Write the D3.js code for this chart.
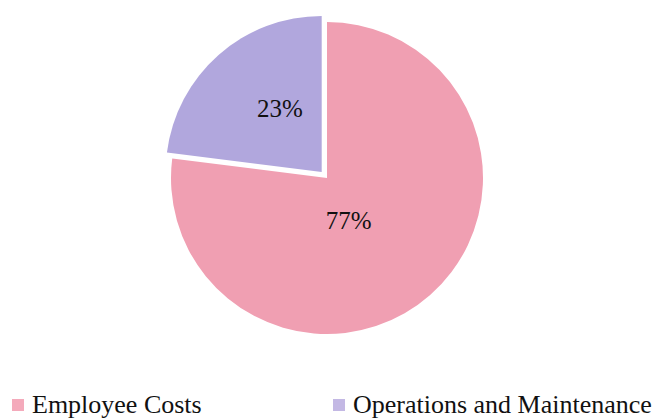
<!DOCTYPE html>
<html>
<head>
<meta charset="utf-8">
<script src="https://cdn.jsdelivr.net/npm/d3@7/dist/d3.min.js"></script>
<style>
  body { margin: 0; background: #fff; }
</style>
</head>
<body>
<div id="chart"></div>
<script>
var categories = ["Employee Costs", "Operations and Maintenance"];
var values = [77, 23];
var labels = ["77%", "23%"];

var w = 657, h = 418;
var cx = 327, cy = 178, r = 156;
var explode = [0, 8];
var sliceColors = ["#f09fb2", "#b1a7dd"];
var keyColors = ["#f4aabb", "#c3b8e4"];
var serif = "'Liberation Serif', 'Times New Roman', serif";

var svg = d3.select("#chart")
    .append("svg")
    .attr("width", w)
    .attr("height", h);

// clockwise from 12 o'clock: pink first, purple closes the circle
var pie = d3.pie().sort(null);

var arc = d3.arc().innerRadius(0).outerRadius(r);

var slices = pie(values);

var g = svg.append("g").attr("transform", "translate(" + cx + "," + cy + ")");

function shift(d, i) {
  var mid = (d.startAngle + d.endAngle) / 2;
  return [explode[i] * Math.sin(mid), -explode[i] * Math.cos(mid)];
}

g.selectAll("path")
    .data(slices)
    .enter()
    .append("path")
    .attr("d", arc)
    .attr("fill", function(d, i) { return sliceColors[i]; })
    .attr("transform", function(d, i) {
      var s = shift(d, i);
      return "translate(" + s[0] + "," + s[1] + ")";
    });

// label radius / nudge roughly where the original places them
var labelR = [48, 76];
var labelNudge = [0.255, 0.14];

g.selectAll("text.pct")
    .data(slices)
    .enter()
    .append("text")
    .attr("class", "pct")
    .attr("text-anchor", "middle")
    .attr("dy", "0.34em")
    .attr("font-family", serif)
    .attr("font-size", 25)
    .attr("fill", "#111")
    .attr("x", function(d, i) {
      var a = (d.startAngle + d.endAngle) / 2 + labelNudge[i];
      return shift(d, i)[0] + labelR[i] * Math.sin(a);
    })
    .attr("y", function(d, i) {
      var a = (d.startAngle + d.endAngle) / 2 + labelNudge[i];
      return shift(d, i)[1] - labelR[i] * Math.cos(a);
    })
    .text(function(d, i) { return labels[i]; });

// legend
var legendX = d3.scalePoint().domain(categories).range([12, 333]);

var key = svg.selectAll("g.key")
    .data(categories)
    .enter()
    .append("g")
    .attr("class", "key")
    .attr("transform", function(d) { return "translate(" + legendX(d) + ",399)"; });

key.append("rect")
    .attr("width", 12)
    .attr("height", 12)
    .attr("fill", function(d, i) { return keyColors[i]; });

key.append("text")
    .attr("x", 20)
    .attr("y", 14)
    .attr("font-family", serif)
    .attr("font-size", 26)
    .attr("fill", "#111")
    .text(function(d) { return d; });
</script>
</body>
</html>
